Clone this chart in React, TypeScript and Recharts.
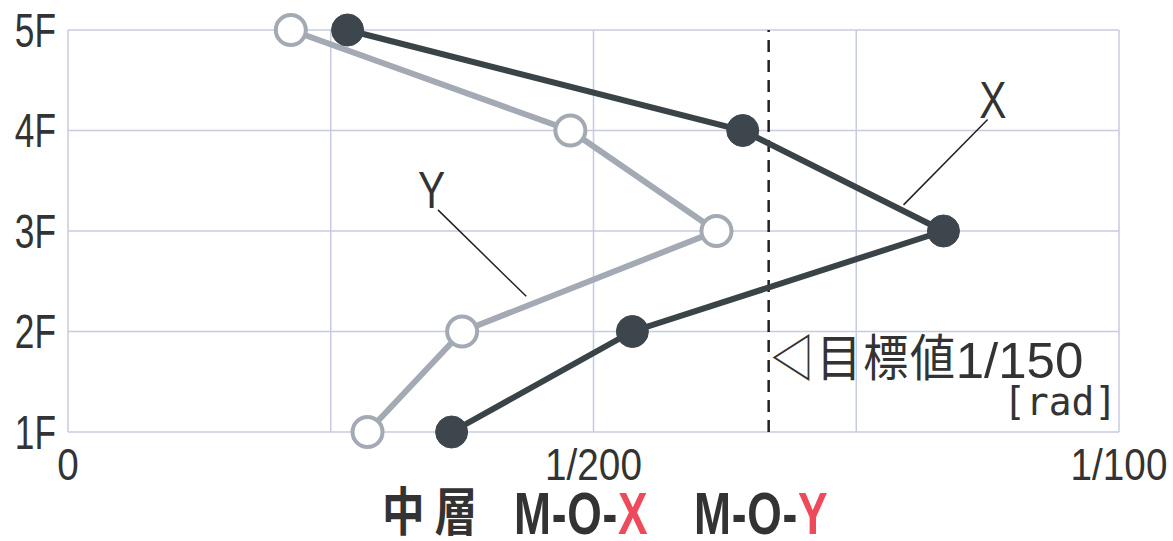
import React from 'react';
import { LineChart, Line, XAxis, YAxis, CartesianGrid, ReferenceLine, ReferenceDot } from 'recharts';

const floorLevels = [5, 4, 3, 2, 1];
const floorLabels = ['5F', '4F', '3F', '2F', '1F'];
const driftX = [0.00266, 0.00642, 0.00833, 0.00537, 0.00365];
const driftY = [0.00212, 0.00478, 0.00617, 0.00375, 0.00285];
const xTicks = [0, 0.0025, 0.005, 0.0075, 0.01];
const xTickLabels = ['0', '', '1/200', '', '1/100'];
const targetDrift = 1 / 150;
const targetLabelJa = '◁目標値';
const targetLabelNum = '1/150';
const unitLabel = '[rad]';
const seriesXName = 'X';
const seriesYName = 'Y';
const titleMain = '中層';
const titleX = ['M-O-', 'X'];
const titleY = ['M-O-', 'Y'];
const xLeader = [{ x: 0.00875, y: 4.11 }, { x: 0.00795, y: 3.26 }];
const yLeader = [{ x: 0.00352, y: 3.21 }, { x: 0.00436, y: 2.35 }];
const xNamePos = { x: 0.0088, y: 4.3 };
const yNamePos = { x: 0.00346, y: 3.41 };

const data = floorLevels.map((f, i) => ({ floor: f, x: driftX[i], y: driftY[i] }));

const LAT = "'Liberation Sans', Arial, sans-serif";
const CJK = "'Noto Sans CJK JP', sans-serif";
const TXT = '#333';
const RED = '#ef4a5b';

const sx = (x: number, y: number, k: number) => `translate(${x},${y}) scale(${k},1) translate(${-x},${-y})`;

const yLabelOf = (v: number) => floorLabels[floorLevels.indexOf(v)] ?? '';
const xLabelOf = (v: number) => {
  const i = xTicks.findIndex((t) => Math.abs(t - v) < 1e-9);
  return i >= 0 ? xTickLabels[i] : '';
};

const YTick = (props: any) => {
  const { x, y, payload } = props;
  const tx = x - 4;
  const ty = y + 17;
  return (
    <text x={tx} y={ty} textAnchor="end" fill={TXT} fontFamily={LAT} fontSize={49} transform={sx(tx, ty, 0.72)}>
      {yLabelOf(payload.value)}
    </text>
  );
};

const XTick = (props: any) => {
  const { x, payload } = props;
  const tx = x;
  const ty = 480;
  return (
    <text x={tx} y={ty} textAnchor="middle" fill={TXT} fontFamily={LAT} fontSize={45} transform={sx(tx, ty, 0.86)}>
      {xLabelOf(payload.value)}
    </text>
  );
};

const TargetLabel = (props: any) => {
  const { viewBox } = props;
  const x = viewBox.x + 1;
  const y = viewBox.y + viewBox.height - 54;
  const x2 = x + 186;
  return (
    <g>
      <text x={x} y={y - 2} fill={TXT} fontFamily={CJK} fontSize={50} transform={sx(x, y, 0.9)} letterSpacing={2}>
        {targetLabelJa}
      </text>
      <text x={x2} y={y} fill={TXT} fontFamily={LAT} fontSize={50} transform={sx(x2, y, 1.02)}>
        {targetLabelNum}
      </text>
    </g>
  );
};

const UnitLabel = (props: any) => {
  const { viewBox } = props;
  const x = viewBox.x - 2;
  const y = viewBox.y - 17;
  return (
    <text x={x} y={y} fill={TXT} fontFamily="'DejaVu Sans Mono', 'Liberation Mono', monospace" fontSize={39} textAnchor="end" transform={sx(x, y, 0.97)}>
      {unitLabel}
    </text>
  );
};

const NameLabel = (text: string) => (props: any) => {
  const { viewBox } = props;
  const x = viewBox.x;
  const y = viewBox.y + 18;
  return (
    <text x={x} y={y} fill={TXT} fontFamily={LAT} fontSize={51} textAnchor="middle" transform={sx(x, y, 0.8)}>
      {text}
    </text>
  );
};

export default function App() {
  return (
    <div style={{ position: 'absolute', left: 0, top: 0, width: 1173, height: 541, background: '#fff', overflow: 'hidden' }}>
      <LineChart
        width={1173}
        height={541}
        data={data}
        layout="vertical"
        margin={{ top: 30, right: 54, left: 0, bottom: 59 }}
      >
        <CartesianGrid stroke="#c8cbe0" strokeWidth={1.5} />
        <XAxis
          type="number"
          dataKey="x"
          domain={[0, 0.01]}
          ticks={xTicks}
          axisLine={false}
          tickLine={false}
          height={50}
          tick={<XTick />}
          interval={0}
        />
        <YAxis
          type="number"
          dataKey="floor"
          domain={[1, 5]}
          ticks={floorLevels}
          reversed
          axisLine={false}
          tickLine={false}
          width={68}
          tick={<YTick />}
          interval={0}
        />
        <ReferenceLine x={targetDrift} stroke="#222" strokeWidth={2.5} strokeDasharray="12 8" label={<TargetLabel />} />
        <ReferenceLine segment={xLeader} stroke="#222" strokeWidth={1.5} ifOverflow="visible" />
        <ReferenceLine segment={yLeader} stroke="#222" strokeWidth={1.5} ifOverflow="visible" />
        <ReferenceDot x={xNamePos.x} y={xNamePos.y} r={0} stroke="none" ifOverflow="visible" label={NameLabel(seriesXName)} />
        <ReferenceDot x={yNamePos.x} y={yNamePos.y} r={0} stroke="none" ifOverflow="visible" label={NameLabel(seriesYName)} />
        <ReferenceDot x={0.01} y={1} r={0} stroke="none" ifOverflow="visible" label={<UnitLabel />} />
        <Line
          dataKey="y"
          stroke="#a3aab4"
          strokeWidth={6}
          dot={{ r: 15, fill: '#fff', stroke: '#a3aab4', strokeWidth: 4 }}
          isAnimationActive={false}
        />
        <Line
          dataKey="x"
          stroke="#3a4348"
          strokeWidth={6}
          dot={{ r: 16, fill: '#3c464c', stroke: '#3c464c', strokeWidth: 1 }}
          isAnimationActive={false}
        />
      </LineChart>
      <svg width={1173} height={541} style={{ position: 'absolute', left: 0, top: 0, pointerEvents: 'none' }}>
        <text x={382} y={531} fill={TXT} fontFamily={CJK} fontWeight="bold" fontSize={52} transform={sx(382, 531, 0.82)} letterSpacing={12}>
          {titleMain}
        </text>
        <text x={514} y={534} fill={TXT} fontFamily={LAT} fontWeight="bold" fontSize={60} transform={sx(514, 534, 0.74)} letterSpacing={1}>
          {titleX[0]}
          <tspan fill={RED}>{titleX[1]}</tspan>
        </text>
        <text x={694} y={534} fill={TXT} fontFamily={LAT} fontWeight="bold" fontSize={60} transform={sx(694, 534, 0.74)} letterSpacing={1}>
          {titleY[0]}
          <tspan fill={RED}>{titleY[1]}</tspan>
        </text>
      </svg>
    </div>
  );
}
